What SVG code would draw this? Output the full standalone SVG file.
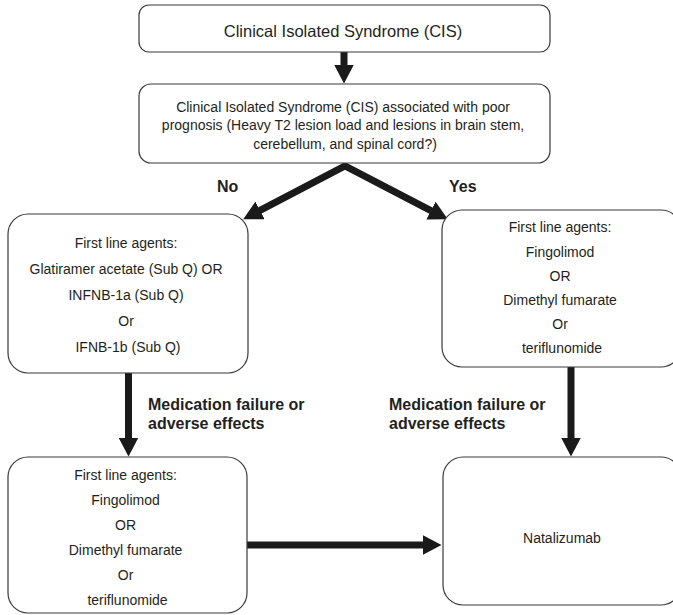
<svg xmlns="http://www.w3.org/2000/svg" width="673" height="615" viewBox="0 0 673 615">
  <style>
    .box { fill: #ffffff; stroke: #3a3a3a; stroke-width: 1.2; }
    .txt { font-family: "Liberation Sans", Arial, sans-serif; fill: #231f20; text-anchor: middle; }
    .lbl { font-family: "Liberation Sans", Arial, sans-serif; fill: #231f20; font-weight: bold; font-size: 16px; }
    .shaft { fill: none; stroke: #1a1a1a; stroke-width: 7; stroke-linejoin: miter; stroke-miterlimit: 10; }
  </style>
  <defs>
    <marker id="head" markerUnits="userSpaceOnUse" markerWidth="20" markerHeight="20" viewBox="0 0 20 20" refX="0.5" refY="10" orient="auto-start-reverse">
      <path d="M0,0 L19,10 L0,20 Z" fill="#1a1a1a"/>
    </marker>
  </defs>

  <rect width="673" height="615" fill="#ffffff"/>

  <!-- connectors -->
  <g id="connectors">
    <path class="shaft" d="M344,52 L344,65" marker-end="url(#head)"/>
    <path class="shaft" d="M259.6,210.7 L345,166 L431.4,210.8" marker-start="url(#head)" marker-end="url(#head)"/>
    <path class="shaft" d="M128.5,373 L128.5,438" marker-end="url(#head)"/>
    <path class="shaft" d="M571,367 L571,438" marker-end="url(#head)"/>
    <path class="shaft" d="M247,545 L423,545" marker-end="url(#head)"/>
    <text class="lbl" x="217" y="192">No</text>
    <text class="lbl" x="449" y="192">Yes</text>
    <text class="lbl" x="148" y="410">Medication failure or</text>
    <text class="lbl" x="148" y="429">adverse effects</text>
    <text class="lbl" x="389" y="410">Medication failure or</text>
    <text class="lbl" x="389" y="429">adverse effects</text>
  </g>

  <!-- nodes -->
  <g id="cis">
    <rect class="box" x="139" y="5" width="411" height="47" rx="10"/>
    <text class="txt" x="343" y="37" font-size="16.5">Clinical Isolated Syndrome (CIS)</text>
  </g>

  <g id="cis-poor-prognosis">
    <rect class="box" x="139" y="84" width="411" height="79" rx="12"/>
    <text class="txt" font-size="14">
      <tspan x="345" y="112">Clinical Isolated Syndrome (CIS) associated with poor</tspan>
      <tspan x="345" y="130">prognosis (Heavy T2 lesion load and lesions in brain stem,</tspan>
      <tspan x="345" y="149">cerebellum, and spinal cord?)</tspan>
    </text>
  </g>

  <g id="first-line-no">
    <rect class="box" x="8" y="214" width="240" height="159" rx="20"/>
    <text class="txt" font-size="14">
      <tspan x="128" y="248">First line agents:</tspan>
      <tspan x="128" y="274">Glatiramer acetate (Sub Q) OR</tspan>
      <tspan x="128" y="300">INFNB-1a (Sub Q)</tspan>
      <tspan x="128" y="326">Or</tspan>
      <tspan x="128" y="352">IFNB-1b (Sub Q)</tspan>
    </text>
  </g>

  <g id="first-line-yes">
    <rect class="box" x="442" y="210" width="239" height="157" rx="20"/>
    <text class="txt" font-size="14">
      <tspan x="562" y="232">First line agents:</tspan>
      <tspan x="562" y="257">Fingolimod</tspan>
      <tspan x="562" y="281">OR</tspan>
      <tspan x="562" y="305">Dimethyl fumarate</tspan>
      <tspan x="562" y="329">Or</tspan>
      <tspan x="562" y="353">teriflunomide</tspan>
    </text>
  </g>

  <g id="second-line">
    <rect class="box" x="8" y="457" width="239" height="156" rx="20"/>
    <text class="txt" font-size="14">
      <tspan x="127.5" y="480">First line agents:</tspan>
      <tspan x="127.5" y="505">Fingolimod</tspan>
      <tspan x="127.5" y="530">OR</tspan>
      <tspan x="127.5" y="555">Dimethyl fumarate</tspan>
      <tspan x="127.5" y="580">Or</tspan>
      <tspan x="127.5" y="605">teriflunomide</tspan>
    </text>
  </g>

  <g id="natalizumab">
    <rect class="box" x="443" y="457" width="238" height="148" rx="20"/>
    <text class="txt" x="562" y="543" font-size="14">Natalizumab</text>
  </g>
</svg>
